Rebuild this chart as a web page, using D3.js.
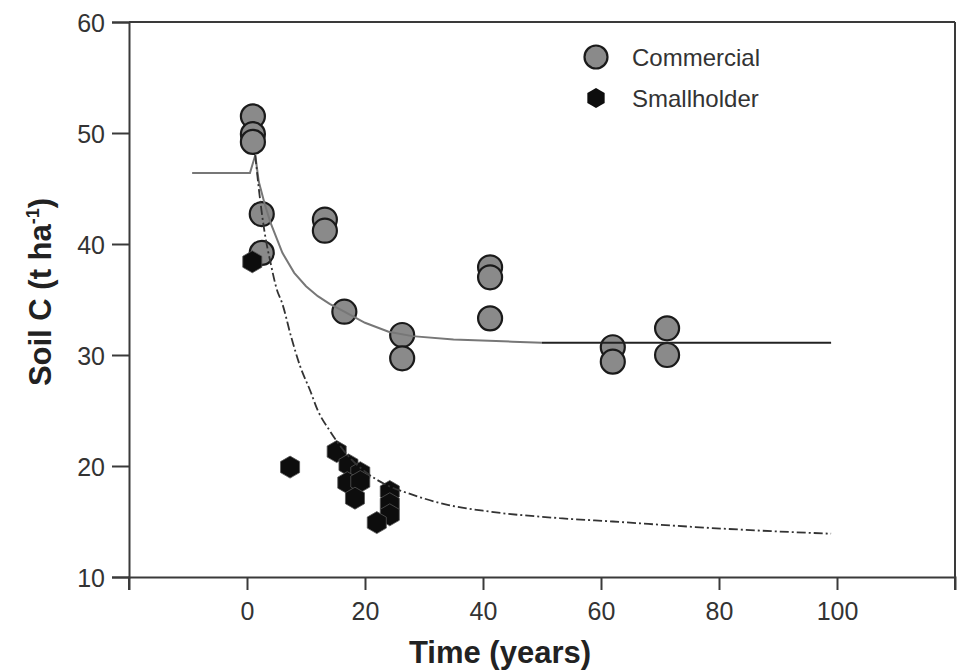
<!DOCTYPE html>
<html>
<head>
<meta charset="utf-8">
<script src="https://cdn.jsdelivr.net/npm/d3@7/dist/d3.min.js"></script>
<style>
  html, body { margin: 0; padding: 0; background: #fff; }
  svg { display: block; }
  text { font-family: "Liberation Sans", Arial, Helvetica, sans-serif; }
</style>
</head>
<body>
<svg id="chart" width="961" height="671"></svg>
<script>
// ---- data ----
const xTicks = [0, 20, 40, 60, 80, 100];
const yTicks = [10, 20, 30, 40, 50, 60];

const commercialYears  = [1, 1, 1, 2.5, 2.5, 13.2, 13.2, 16.5, 26.3, 26.3, 41.2, 41.2, 41.2, 62, 62, 71.2, 71.2];
const commercialSoilC  = [51.5, 49.9, 49.2, 42.7, 39.2, 42.2, 41.2, 33.9, 31.8, 29.7, 37.9, 37.0, 33.3, 30.7, 29.4, 32.4, 30.0];

const smallholderYears = [0.9, 7.3, 15.2, 17.2, 19.2, 17.0, 19.2, 18.3, 24.2, 24.2, 24.2, 22.0];
const smallholderSoilC = [38.4, 19.9, 21.3, 20.1, 19.4, 18.5, 18.6, 17.1, 17.7, 16.6, 15.6, 14.9];

// fitted curves
const commercialFitYears = [-9.3, 0.5, 1.4, 2, 3, 4, 6, 8, 10, 12, 14, 16.5, 20, 24, 28, 35, 45, 50];
const commercialFitSoilC = [46.4, 46.4, 48.0, 45.6, 43.6, 41.9, 39.2, 37.4, 36.2, 35.3, 34.6, 33.9, 32.9, 32.1, 31.7, 31.4, 31.2, 31.1];
const commercialTailYears = [50, 99];
const commercialTailSoilC = [31.1, 31.1];

const smallholderFitYears = [1.4, 2, 3, 4, 5, 6, 7.5, 9, 10.7, 12, 14, 17, 20, 24, 27, 34, 41, 53, 62, 76, 90, 99];
const smallholderFitSoilC = [48.0, 45.0, 41.0, 38.3, 36.0, 34.6, 31.6, 29.0, 26.8, 25.0, 23.2, 21.0, 19.5, 18.2, 17.6, 16.5, 15.9, 15.3, 15.0, 14.5, 14.1, 13.9];

const seriesNames = ["Commercial", "Smallholder"];
const xTitle = "Time (years)";

// ---- layout ----
const svg = d3.select("#chart");
const x = d3.scaleLinear().domain([-20, 120]).range([129, 955]);
const y = d3.scaleLinear().domain([10, 60]).range([577, 22]);
const ink = "#3a3a3a";

// frame
const frame = svg.append("g").attr("stroke", ink).attr("stroke-width", 2).attr("fill", "none");
frame.append("line").attr("x1", x(-20)).attr("x2", x(120)).attr("y1", y(60)).attr("y2", y(60));
frame.append("line").attr("x1", x(120)).attr("x2", x(120)).attr("y1", y(60)).attr("y2", y(10) + 13);
frame.append("line").attr("x1", x(-20)).attr("x2", x(-20)).attr("y1", y(10)).attr("y2", y(10) + 13);

// axes
const yAxis = svg.append("g").attr("transform", `translate(${x(-20)},0)`)
  .call(d3.axisLeft(y).tickValues(yTicks).tickSize(17).tickPadding(7));
const xAxis = svg.append("g").attr("transform", `translate(0,${y(10)})`)
  .call(d3.axisBottom(x).tickValues(xTicks).tickSize(13).tickPadding(12));
[xAxis, yAxis].forEach(g => {
  g.select(".domain").attr("stroke", ink).attr("stroke-width", 2);
  g.selectAll(".tick line").attr("stroke", ink).attr("stroke-width", 2);
  g.selectAll(".tick text").attr("fill", "#333").attr("font-size", 25)
    .attr("font-family", "'Liberation Sans', Arial, sans-serif");
});
yAxis.selectAll(".tick text").attr("dy", "0.36em");

// titles
svg.append("text").attr("x", 500).attr("y", 663).attr("text-anchor", "middle")
  .attr("font-size", 31).attr("font-weight", "bold").attr("fill", "#222").text(xTitle);
const yt = svg.append("text").attr("transform", "translate(51,292) rotate(-90)")
  .attr("text-anchor", "middle").attr("font-size", 31).attr("font-weight", "bold").attr("fill", "#222");
yt.append("tspan").text("Soil C (t ha");
yt.append("tspan").attr("font-size", 18).attr("dy", -12).text("-1");
yt.append("tspan").attr("dy", 12).text(")");

// markers
function hexPath(r) {
  const pts = d3.range(6).map(i => {
    const a = -Math.PI / 2 + i * Math.PI / 3;
    return [r * Math.cos(a), r * Math.sin(a)];
  });
  return d3.line()(pts) + "Z";
}
const commercial = commercialYears.map((t, i) => ({ t, c: commercialSoilC[i] }));
const smallholder = smallholderYears.map((t, i) => ({ t, c: smallholderSoilC[i] }));

svg.append("g").selectAll("circle").data(commercial).join("circle")
  .attr("cx", d => x(d.t)).attr("cy", d => y(d.c)).attr("r", 12)
  .attr("fill", "#8a8a8a").attr("stroke", "#1a1a1a").attr("stroke-width", 2.2);

svg.append("g").selectAll("path").data(smallholder).join("path")
  .attr("transform", d => `translate(${x(d.t)},${y(d.c)})`)
  .attr("d", hexPath(11)).attr("fill", "#0d0d0d").attr("stroke", "#555").attr("stroke-width", 0.8);

// fitted lines
const line = d3.line().x(d => x(d[0])).y(d => y(d[1])).curve(d3.curveMonotoneX);
svg.append("path").datum(commercialFitYears.map((t, i) => [t, commercialFitSoilC[i]]))
  .attr("d", d3.line().x(d => x(d[0])).y(d => y(d[1])).curve(d3.curveLinear))
  .attr("fill", "none").attr("stroke", "#777").attr("stroke-width", 2);
svg.append("path").datum(commercialTailYears.map((t, i) => [t, commercialTailSoilC[i]]))
  .attr("d", line).attr("fill", "none").attr("stroke", "#222").attr("stroke-width", 2);
svg.append("path").datum(smallholderFitYears.map((t, i) => [t, smallholderFitSoilC[i]]))
  .attr("d", line).attr("fill", "none").attr("stroke", "#333").attr("stroke-width", 1.8)
  .attr("stroke-dasharray", "9,3,2,3");

// legend
const lg = svg.append("g");
lg.append("circle").attr("cx", 596).attr("cy", 57).attr("r", 11.5)
  .attr("fill", "#8a8a8a").attr("stroke", "#1a1a1a").attr("stroke-width", 2.2);
lg.append("path").attr("transform", "translate(596,98)").attr("d", hexPath(10)).attr("fill", "#0d0d0d");
lg.selectAll("text").data(seriesNames).join("text")
  .attr("x", 632).attr("y", (d, i) => 66 + i * 41)
  .attr("font-size", 24).attr("fill", "#333").text(d => d);
</script>
</body>
</html>
